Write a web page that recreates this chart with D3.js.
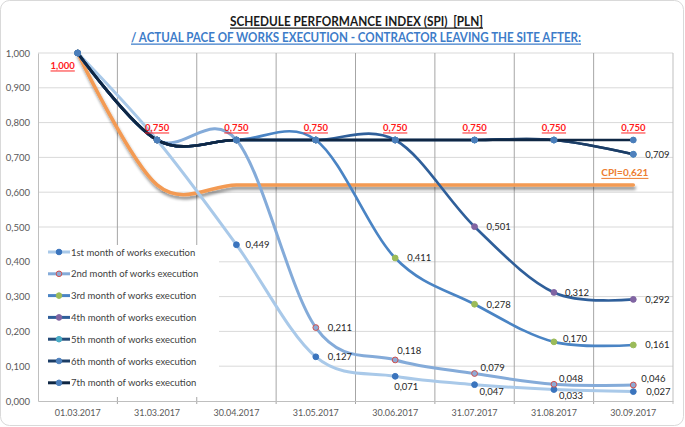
<!DOCTYPE html>
<html><head><meta charset="utf-8">
<script src="https://cdn.jsdelivr.net/npm/d3@7"></script>
<style>
html,body{margin:0;padding:0;background:#fff;}
svg{display:block;font-family:Lato,"Open Sans",sans-serif;}
</style></head>
<body>
<svg id="c" width="685" height="427"></svg>
<script>
// ---------- data ----------
const categories = ["01.03.2017","31.03.2017","30.04.2017","31.05.2017","30.06.2017","31.07.2017","31.08.2017","30.09.2017"];
const seriesNames = ["1st month of works execution","2nd month of works execution","3rd month of works execution",
  "4th month of works execution","5th month of works execution","6th month of works execution","7th month of works execution"];
const month1 = [1.000, 0.750, 0.449, 0.127, 0.071, 0.047, 0.033, 0.027];
const month2 = [1.000, 0.750, 0.750, 0.211, 0.118, 0.079, 0.048, 0.046];
const month3 = [1.000, 0.750, 0.750, 0.750, 0.411, 0.278, 0.170, 0.161];
const month4 = [1.000, 0.750, 0.750, 0.750, 0.750, 0.501, 0.312, 0.292];
const month5 = [1.000, 0.750, 0.750, 0.750, 0.750, 0.750, 0.750, 0.709];
const month6 = [1.000, 0.750, 0.750, 0.750, 0.750, 0.750, 0.750, 0.709];
const month7 = [1.000, 0.750, 0.750, 0.750, 0.750, 0.750, 0.750, 0.750];
const cpiValues = [1.000, 0.621, 0.621, 0.621, 0.621, 0.621, 0.621, 0.621];
const cpiLabel = "CPI=0,621";
const yTicks = [0,0.1,0.2,0.3,0.4,0.5,0.6,0.7,0.8,0.9,1.0];
const title1 = "SCHEDULE PERFORMANCE INDEX (SPI)  [PLN]";
const title2 = "/ ACTUAL PACE OF WORKS EXECUTION - CONTRACTOR LEAVING THE SITE AFTER:";

const allSeries = [month1, month2, month3, month4, month5, month6, month7];
const lineColors = ["#a9c9e9","#84abd9","#4a84c4","#2f5f9a","#254b78","#1b3d66","#0f2744"];
const markerFill = ["#3a74bd","#8eaad6","#9bbb59","#8064a2","#4bacc6","#4f81bd","#4a7ebb"];
const markerStroke = ["#3a74bd","#d0504d","#9bbb59","#8064a2","#4bacc6","#4f81bd","#4a7ebb"];

// ---------- layout ----------
const svg = d3.select("#c");
const L = 38, R = 673, T = 53, B = 401;
const loc = d3.formatLocale({decimal:",", thousands:" ", grouping:[3], currency:["",""]});
const fmt = loc.format(".3f");

const x = d3.scaleBand().domain(categories).range([L, R]).padding(0);
const y = d3.scaleLinear().domain([0, 1]).range([B, T]);
const cx = c => x(c) + x.bandwidth()/2;

// frame
svg.append("rect").attr("x",0.5).attr("y",0.5).attr("width",683).attr("height",425)
  .attr("rx",9).attr("fill","#fff").attr("stroke","#d9d9d9");

// defs: shadow
const defs = svg.append("defs");
const f = defs.append("filter").attr("id","sh").attr("x","-5%").attr("y","-20%").attr("width","110%").attr("height","140%");
f.append("feGaussianBlur").attr("in","SourceAlpha").attr("stdDeviation",1.6).attr("result","b");
f.append("feOffset").attr("in","b").attr("dx",1).attr("dy",2.5).attr("result","o");
f.append("feComponentTransfer").attr("in","o").attr("result","o2")
  .append("feFuncA").attr("type","linear").attr("slope",0.45);
const mg = f.append("feMerge");
mg.append("feMergeNode").attr("in","o2");
mg.append("feMergeNode").attr("in","SourceGraphic");

// horizontal gridlines
svg.append("g").selectAll("line").data(yTicks.filter(d=>d>0)).join("line")
  .attr("x1",L).attr("x2",R).attr("y1",d=>y(d)).attr("y2",d=>y(d))
  .attr("stroke","#d9d9d9").attr("stroke-width",1);

// vertical boundaries
const bounds = d3.range(1, categories.length+1).map(i => L + i*x.step());
svg.append("g").selectAll("line").data(bounds).join("line")
  .attr("x1",d=>d).attr("x2",d=>d).attr("y1",T).attr("y2",B+3)
  .attr("stroke",(d,i)=> i===bounds.length-1 ? "#bfbfbf" : "#a6a6a6").attr("stroke-width",1);

// legend background (covers gridlines)
svg.append("rect").attr("x",L+1).attr("y",245).attr("width",180).attr("height",152).attr("fill","#fff");

// axes
const yAxis = svg.append("g").attr("transform",`translate(${L},0)`)
  .call(d3.axisLeft(y).tickValues(yTicks).tickFormat(fmt).tickSize(0).tickPadding(8));
yAxis.select(".domain").attr("stroke","#bfbfbf");
yAxis.selectAll("text").attr("fill","#595959").style("font-size","9.5px").attr("font-family","Lato,sans-serif");

const xAxis = svg.append("g").attr("transform",`translate(0,${B})`)
  .call(d3.axisBottom(x).tickSize(0).tickPadding(9));
xAxis.select(".domain").attr("stroke","#bfbfbf");
xAxis.selectAll("text").attr("fill","#595959").style("font-size","9px").attr("font-family","Lato,sans-serif");

// line generator
const line = d3.line().x((d,i)=>cx(categories[i])).y(d=>y(d)).curve(d3.curveCardinal.tension(0));

// CPI line
svg.append("path").datum(cpiValues).attr("d",line).attr("fill","none")
  .attr("stroke","#f39a52").attr("stroke-width",3.5).attr("stroke-linecap","round")
  .attr("filter","url(#sh)");

// series lines
allSeries.forEach((s,k)=>{
  svg.append("path").datum(s).attr("d",line).attr("fill","none")
    .attr("stroke",lineColors[k]).attr("stroke-width",k<2?3:2.7)
    .attr("stroke-linecap","round").attr("stroke-linejoin","round");
});
// markers
allSeries.forEach((s,k)=>{
  svg.append("g").selectAll("circle").data(s).join("circle")
    .attr("cx",(d,i)=>cx(categories[i])).attr("cy",d=>y(d)).attr("r",2.9)
    .attr("fill",markerFill[k]).attr("stroke",markerStroke[k]).attr("stroke-width",1);
});

// data labels (offsets per series / index)
const lblOff = {
  0:{2:[9,0],3:[12,0],4:[-1,10],5:[5,7],6:[5,6],7:[13,0]},
  1:{3:[12,0],4:[2,-9],5:[6,-6],6:[5,-6],7:[8,-6]},
  2:{4:[12,0],5:[12,0],6:[9,-3],7:[12,0]},
  3:{5:[12,0],6:[11,0],7:[12,0]},
  5:{7:[12,0]}
};
Object.keys(lblOff).forEach(k=>{
  const s = allSeries[+k];
  Object.keys(lblOff[k]).forEach(i=>{
    const [dx,dy] = lblOff[k][i];
    svg.append("text").attr("x",cx(categories[+i])+dx).attr("y",y(s[+i])+dy)
      .attr("dominant-baseline","central").attr("fill","#262626")
      .style("font-size","9.5px").text(fmt(s[+i]));
  });
});

// red labels for plateau values
month7.forEach((v,i)=>{
  const isFirst = i===0;
  svg.append("text").attr("x",cx(categories[i]) + (isFirst?-15:0)).attr("y",y(v) + (isFirst?12:-13))
    .attr("text-anchor","middle").attr("dominant-baseline","central")
    .attr("fill","#ff1a1a").attr("font-weight","bold").style("font-size","9.5px")
    .style("text-decoration","underline").text(fmt(v));
});

// CPI label
svg.append("text").attr("x",cx(categories[7])-32).attr("y",y(cpiValues[7])-13)
  .attr("dominant-baseline","central").attr("fill","#ed7d31").attr("font-weight","bold")
  .style("font-size","10px").style("text-decoration","underline").text(cpiLabel);

// legend
const lg = svg.append("g");
seriesNames.forEach((n,k)=>{
  const yy = 252 + k*21.8;
  lg.append("line").attr("x1",48).attr("x2",70).attr("y1",yy).attr("y2",yy)
    .attr("stroke",lineColors[k]).attr("stroke-width",3);
  lg.append("circle").attr("cx",59).attr("cy",yy).attr("r",2.8)
    .attr("fill",markerFill[k]).attr("stroke",markerStroke[k]).attr("stroke-width",1);
  lg.append("text").attr("x",71).attr("y",yy).attr("dominant-baseline","central")
    .attr("fill","#404040").style("font-size","9.5px").text(n);
});

// titles
svg.append("text").attr("x",230).attr("y",21).attr("dominant-baseline","central")
  .attr("font-weight","bold").attr("fill","#1a1a1a").style("font-size","12.5px")
  .style("white-space","pre")
  .attr("textLength",253).attr("lengthAdjust","spacingAndGlyphs")
  .style("text-decoration","underline").text(title1);
svg.append("text").attr("x",131).attr("y",37).attr("dominant-baseline","central")
  .attr("font-weight","bold").attr("fill","#3d7cc9").style("font-size","12.5px")
  .attr("textLength",450).attr("lengthAdjust","spacingAndGlyphs")
  .style("text-decoration","underline").text(title2);
</script>
</body></html>
